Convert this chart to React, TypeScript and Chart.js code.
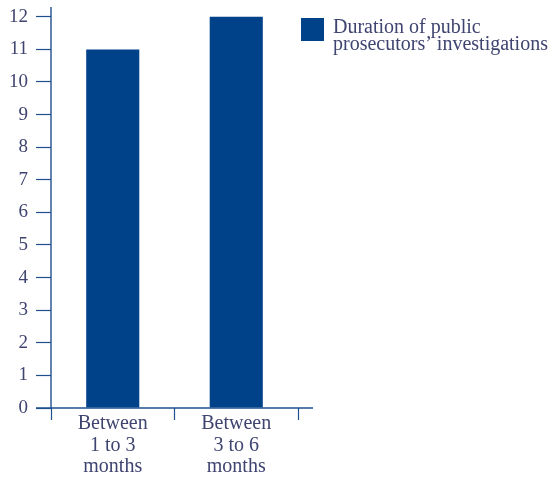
import React, { useEffect, useRef } from "react";
import { Chart, registerables } from "chart.js";

Chart.register(...registerables);

const categories: string[][] = [
  ["Between", "1 to 3", "months"],
  ["Between", "3 to 6", "months"],
];
const seriesLabel = "Duration of public prosecutors' investigations";
const legendLines = ["Duration of public", "prosecutors\u2019 investigations"];
const seriesValues = [11, 12];
const yTicks = [0, 1, 2, 3, 4, 5, 6, 7, 8, 9, 10, 11, 12];

const BAR = "#00428a";
const AXIS = "#1d4f8e";
const TEXT = "#3f4470";
const FONT = "'Liberation Serif', 'Times New Roman', serif";

const axisPlugin = {
  id: "axisLines",
  afterDatasetsDraw(chart: any) {
    const { ctx, scales } = chart;
    const x = scales.x;
    const y = scales.y;
    const y0 = y.getPixelForValue(0);
    ctx.save();
    ctx.strokeStyle = AXIS;
    ctx.lineWidth = 1.4;
    ctx.beginPath();
    ctx.moveTo(x.left - 15, y0);
    ctx.lineTo(x.right + 15, y0);
    ctx.stroke();
    ctx.beginPath();
    ctx.moveTo(x.left, y.top);
    ctx.lineTo(x.left, y0);
    ctx.stroke();
    ctx.restore();
  },
};

const legendPlugin = {
  id: "customLegend",
  afterDraw(chart: any) {
    const { ctx, chartArea } = chart;
    const bx = chartArea.right + 3;
    ctx.save();
    ctx.fillStyle = BAR;
    ctx.fillRect(bx, 18, 23, 23);
    ctx.fillStyle = TEXT;
    ctx.font = `20px ${FONT}`;
    ctx.textAlign = "left";
    ctx.textBaseline = "alphabetic";
    legendLines.forEach((line, i) => {
      ctx.fillText(line, bx + 32, 33 + i * 17);
    });
    ctx.restore();
  },
};

export default function App() {
  const ref = useRef<HTMLCanvasElement>(null);
  useEffect(() => {
    if (!ref.current) return;
    const chart = new Chart(ref.current, {
      type: "bar",
      data: {
        labels: categories,
        datasets: [
          {
            label: seriesLabel,
            data: seriesValues,
            backgroundColor: BAR,
            borderWidth: 0,
            categoryPercentage: 1,
            barPercentage: 0.43,
          },
        ],
      },
      options: {
        animation: false,
        responsive: false,
        layout: { padding: { left: 0, right: 259, top: 7, bottom: 0 } },
        plugins: {
          legend: { display: false },
          tooltip: { enabled: false },
        },
        scales: {
          x: {
            offset: true,
            border: { display: false },
            grid: {
              offset: true,
              drawOnChartArea: false,
              drawTicks: true,
              tickLength: 12,
              tickWidth: 1.2,
              tickColor: AXIS,
            },
            ticks: {
              color: TEXT,
              padding: -7,
              maxRotation: 0,
              autoSkip: false,
              font: { family: FONT, size: 20, lineHeight: "21.5px" },
            },
            afterFit(scale: any) {
              scale.height = 69;
              scale.paddingLeft = 0;
              scale.paddingRight = 0;
            },
          },
          y: {
            min: 0,
            max: 12.3,
            border: { display: false },
            grid: {
              drawOnChartArea: false,
              drawTicks: true,
              tickLength: 15,
              tickWidth: 1.2,
              tickColor: AXIS,
            },
            afterBuildTicks(scale: any) {
              scale.ticks = yTicks.map((v) => ({ value: v }));
            },
            ticks: {
              color: TEXT,
              padding: 8,
              font: { family: FONT, size: 19 },
            },
            afterFit(scale: any) {
              scale.width = 51;
              scale.paddingTop = 0;
              scale.paddingBottom = 0;
            },
          },
        },
      } as any,
      plugins: [axisPlugin, legendPlugin],
    });
    return () => chart.destroy();
  }, []);
  return (
    <div style={{ position: "fixed", left: 0, top: 0, width: 557, height: 477, background: "#fff" }}>
      <canvas ref={ref} width={557} height={477} style={{ width: 557, height: 477 }} />
    </div>
  );
}
